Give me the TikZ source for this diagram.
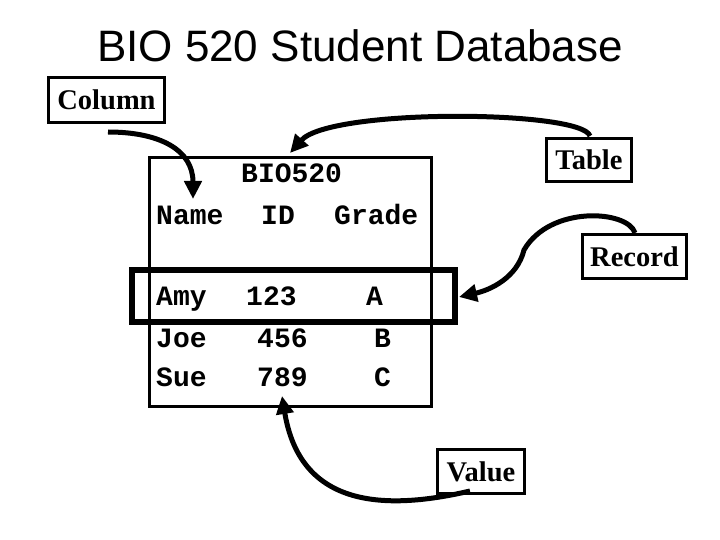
\documentclass[tikz,border=0pt]{standalone}
\usepackage{fontspec}
\setmainfont{Liberation Serif}
\newfontfamily\titlefont{Liberation Sans}
\newfontfamily\monofont{Liberation Mono}
\usetikzlibrary{arrows.meta}
\tikzset{
  lbl/.style={draw, line width=3pt, inner sep=0pt, font=\fontsize{28.5}{30}\selectfont\bfseries},
  cell/.style={anchor=base west, inner sep=0pt, font=\fontsize{28}{30}\selectfont\monofont\bfseries},
  conn/.style={line width=5pt, -{Triangle[length=18pt,width=17pt]}}
}
\begin{document}
\begin{tikzpicture}[x=1pt,y=-1pt]
\useasboundingbox (0,0) rectangle (720,540);
\node[anchor=base, inner sep=0pt, font=\fontsize{44}{48}\selectfont\titlefont] (title) at (360,62) {BIO 520 Student Database};
% table frame
\draw[line width=3pt] (149.5,157.5) rectangle (431.5,406.5);
% labels
\node[lbl, minimum width=116pt, minimum height=45pt] (column) at (106.5,100) {Column};
\node[lbl, minimum width=85pt, minimum height=43pt] (table) at (589,160) {Table};
\node[lbl, minimum width=104pt, minimum height=44pt] (record) at (634.5,256.5) {Record};
\node[lbl, minimum width=87pt, minimum height=44pt] (value) at (481,471.5) {Value};
% cells
\node[cell] (bio) at (241,183) {BIO520};
\node[cell] (name) at (156,225) {Name};
\node[cell] (id) at (261,225) {ID};
\node[cell] (grade) at (334,225) {Grade};
\node[cell] (amy) at (156,305) {Amy};
\node[cell] (n123) at (246,305) {123};
\node[cell] (ga) at (366,305) {A};
\node[cell] (joe) at (156,347) {Joe};
\node[cell] (n456) at (257,347) {456};
\node[cell] (gb) at (374,347) {B};
\node[cell] (sue) at (156,386) {Sue};
\node[cell] (n789) at (257,386) {789};
\node[cell] (gc) at (374,386) {C};
% record highlight
\draw[line width=6pt] (132,270) rectangle (455,322);
% connector ends
\coordinate (c0) at (108,132);
\coordinate (c1) at (193,199);
\coordinate (t0) at (590,136);
\coordinate (t1) at (290,153);
\coordinate (r0) at (635,233);
\coordinate (r1) at (459,297);
\coordinate (v0) at (470,491);
\coordinate (v1) at (282,396);
\draw[conn] (c0) .. controls (160,132) and (193,150) .. (c1);
\draw[conn] (t0) .. controls (582,110) and (330,108) .. (t1);
\draw[conn] (r0) .. controls (628,210) and (550,205) .. (524,250) .. controls (517,278) and (490,290) .. (r1);
\draw[conn] (v0) .. controls (380,512) and (300,505) .. (v1);
\end{tikzpicture}
\end{document}
